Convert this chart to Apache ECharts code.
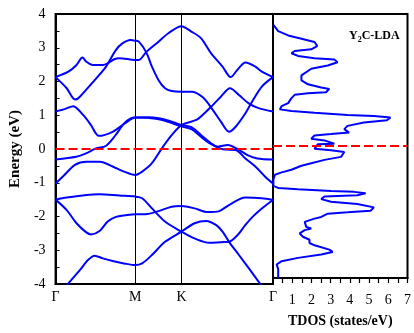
<!DOCTYPE html>
<html>
<head>
<meta charset="utf-8">
<script src="https://cdn.jsdelivr.net/npm/echarts@6/dist/echarts.min.js"></script>
<style>
  html, body { margin: 0; padding: 0; background: #fff; }
  #chart { width: 414px; height: 333px; }
</style>
</head>
<body>
<div id="chart"></div>
<script>
// high-symmetry points along the path (path length units) and their labels
const kPoints = [0, 0.578, 0.913, 1.577];
const kLabels = ['Γ', 'M', 'K', 'Γ'];

// bands, [k, energy eV]
const bandC3 = [[0, 2.13], [0.093, 2.29], [0.152, 2.49], [0.195, 2.71], [0.223, 2.59], [0.271, 2.49], [0.343, 2.49], [0.378, 2.54], [0.426, 2.66], [0.462, 2.69], [0.578, 2.64], [0.604, 2.64], [0.657, 2.87], [0.747, 3.18], [0.818, 3.43], [0.913, 3.64], [0.985, 3.48], [1.056, 3.28], [1.127, 2.84], [1.211, 2.44], [1.270, 2.13], [1.318, 2.34], [1.377, 2.56], [1.449, 2.44], [1.496, 2.29], [1.577, 2.13]];
const bandC2 = [[0, 2.13], [0.081, 1.80], [0.141, 1.47], [0.164, 1.50], [0.221, 1.75], [0.295, 2.09], [0.366, 2.44], [0.437, 2.93], [0.485, 3.13], [0.544, 3.23], [0.578, 3.21], [0.604, 3.18], [0.657, 2.87], [0.699, 2.44], [0.747, 2.04], [0.794, 1.80], [0.842, 1.72], [0.913, 1.70], [0.985, 1.70], [1.068, 1.53], [1.140, 1.16], [1.199, 0.81], [1.258, 0.51], [1.306, 0.66], [1.377, 1.06], [1.425, 1.40], [1.496, 1.85], [1.577, 2.13]];
const bandC1 = [[0, 1.11], [0.071, 1.19], [0.128, 1.27], [0.200, 1.01], [0.257, 0.71], [0.314, 0.39], [0.414, 0.51], [0.507, 0.77], [0.578, 0.93], [0.678, 0.94], [0.749, 0.91], [0.821, 0.84], [0.913, 0.71], [0.985, 0.65], [1.056, 0.41], [1.127, 0.17], [1.177, 0.07], [1.249, 0.12], [1.320, 0.0], [1.392, -0.18], [1.463, -0.28], [1.577, -0.31]];
const bandV1 = [[0, -0.31], [0.150, -0.23], [0.221, -0.13], [0.293, 0.02], [0.364, 0.09], [0.435, 0.41], [0.497, 0.76], [0.545, 0.91], [0.578, 0.93], [0.678, 0.92], [0.749, 0.88], [0.821, 0.80], [0.913, 0.67], [0.985, 0.59], [1.056, 0.36], [1.113, 0.18], [1.213, -0.01], [1.306, -0.03], [1.377, -0.28], [1.449, -0.52], [1.520, -0.82], [1.577, -1.02]];
const bandV2 = [[0, -1.02], [0.057, -0.80], [0.141, -0.47], [0.223, -0.38], [0.321, -0.38], [0.414, -0.52], [0.497, -0.67], [0.578, -0.77], [0.628, -0.67], [0.699, -0.42], [0.771, 0.02], [0.842, 0.41], [0.913, 0.71], [1.020, 0.86], [1.080, 1.06], [1.140, 1.30], [1.199, 1.55], [1.265, 1.80], [1.330, 1.60], [1.401, 1.35], [1.472, 1.21], [1.577, 1.11]];
const bandV3 = [[0, -1.50], [0.081, -1.44], [0.223, -1.36], [0.319, -1.34], [0.462, -1.38], [0.578, -1.41], [0.628, -1.46], [0.699, -1.76], [0.794, -2.15], [0.913, -2.45], [1.008, -2.65], [1.115, -2.78], [1.199, -2.76], [1.258, -2.75], [1.320, -2.55], [1.377, -2.25], [1.434, -1.99], [1.496, -1.76], [1.577, -1.51]];
const bandV4 = [[0, -1.50], [0.081, -1.81], [0.152, -2.20], [0.223, -2.47], [0.259, -2.53], [0.319, -2.43], [0.378, -2.15], [0.437, -2.01], [0.509, -1.96], [0.578, -1.93], [0.652, -1.93], [0.747, -1.84], [0.842, -1.71], [0.913, -1.69], [1.008, -1.76], [1.104, -1.87], [1.187, -1.84], [1.258, -1.66], [1.377, -1.44], [1.496, -1.46], [1.577, -1.51]];
const bandV5 = [[0.050, -4.21], [0.093, -3.98], [0.176, -3.59], [0.235, -3.29], [0.283, -3.16], [0.343, -3.24], [0.414, -3.32], [0.497, -3.39], [0.578, -3.44], [0.628, -3.39], [0.699, -3.14], [0.794, -2.75], [0.913, -2.45], [1.008, -2.20], [1.092, -2.13], [1.163, -2.25], [1.211, -2.45], [1.258, -2.75], [1.330, -3.14], [1.401, -3.53], [1.472, -3.93], [1.513, -4.15]];

// total DOS, [states/eV, energy eV]
const tdos = [[0.02, 3.67], [0.27, 3.48], [0.79, 3.35], [1.48, 3.25], [2.16, 3.15], [2.30, 3.03], [1.99, 2.93], [1.13, 2.88], [0.96, 2.81], [1.30, 2.73], [2.16, 2.66], [3.19, 2.62], [3.36, 2.54], [2.85, 2.44], [1.99, 2.34], [1.48, 2.14], [1.48, 1.99], [1.82, 1.87], [2.51, 1.77], [2.93, 1.73], [2.76, 1.63], [1.82, 1.60], [1.13, 1.55], [0.96, 1.45], [0.79, 1.30], [0.45, 1.21], [0.36, 1.11], [0.96, 1.06], [2.16, 1.01], [3.88, 0.94], [5.25, 0.91], [6.11, 0.86], [5.93, 0.78], [4.73, 0.71], [3.88, 0.61], [3.71, 0.51], [3.96, 0.41], [3.02, 0.36], [2.16, 0.32], [1.99, 0.22], [2.68, 0.17], [3.19, 0.07], [2.33, 0.05], [2.16, -0.08], [3.02, -0.13], [3.71, -0.18], [3.54, -0.33], [2.68, -0.42], [1.99, -0.52], [1.48, -0.60], [0.96, -0.72], [0.45, -0.80], [0.10, -0.87], [0.02, -1.02], [0.02, -1.21], [0.27, -1.27], [1.30, -1.31], [3.02, -1.36], [4.22, -1.39], [4.82, -1.43], [4.39, -1.49], [2.68, -1.53], [2.51, -1.61], [3.02, -1.69], [4.39, -1.76], [5.25, -1.86], [5.08, -1.96], [3.88, -2.01], [2.85, -2.05], [2.51, -2.15], [2.16, -2.20], [1.65, -2.30], [1.73, -2.45], [1.99, -2.50], [1.65, -2.55], [1.39, -2.65], [1.56, -2.75], [1.90, -2.84], [1.90, -2.94], [2.16, -3.01], [2.93, -3.14], [3.10, -3.21], [2.51, -3.29], [1.30, -3.39], [0.45, -3.49], [0.19, -3.59], [0.27, -3.73], [0.27, -3.88], [0.27, -4.0]];

const bands = [bandC3, bandC2, bandC1, bandV1, bandV2, bandV3, bandV4, bandV5];

const serif = '"Liberation Serif", "DejaVu Serif", serif';
const blue = '#0000ff';
// Fermi level, a fresh object for each series
const fermiLine = () => ({
  silent: true,
  symbol: 'none',
  label: { show: false },
  lineStyle: { color: '#ff0000', width: 2, type: [9, 4] },
  data: [{ yAxis: 0 }]
});

const chart = echarts.init(document.getElementById('chart'));

const series = bands.map((b) => ({
  type: 'line',
  xAxisIndex: 0,
  yAxisIndex: 0,
  data: b,
  showSymbol: false,
  smooth: 0.3,
  lineStyle: { color: blue, width: 2 },
  z: 3
}));
// vertical lines at M and K
series[0].markLine = {
  silent: true,
  symbol: 'none',
  label: { show: false },
  lineStyle: { color: '#000', width: 1, type: 'solid' },
  data: [{ xAxis: kPoints[1] }, { xAxis: kPoints[2] }]
};
series[1].markLine = fermiLine();
series.push({
  type: 'line',
  xAxisIndex: 1,
  yAxisIndex: 1,
  data: tdos,
  showSymbol: false,
  lineStyle: { color: blue, width: 2 },
  markLine: fermiLine()
});

chart.setOption({
  animation: false,
  backgroundColor: '#fff',
  title: {
    text: '{a|Y}{b|2}{a|C-LDA}',
    left: 344,
    top: 22,
    textStyle: {
      rich: {
        a: { fontFamily: serif, fontWeight: 'bold', fontSize: 12, color: '#000' },
        b: { fontFamily: serif, fontWeight: 'bold', fontSize: 8, color: '#000', padding: [9, 0, 0, 0] }
      }
    }
  },
  grid: [
    { left: 52, top: 14, width: 221, height: 270, show: true, borderColor: '#000', borderWidth: 2 },
    { left: 273, top: 14, width: 136, height: 270, show: true, borderColor: '#000', borderWidth: 2 }
  ],
  xAxis: [
    {
      gridIndex: 0, type: 'value', min: 0, max: kPoints[3],
      axisLine: { onZero: false, lineStyle: { color: '#000', width: 2 } },
      axisTick: { show: false },
      splitLine: { show: false },
      axisLabel: {
        customValues: kPoints,
        margin: 6,
        color: '#000', fontFamily: serif, fontSize: 14,
        formatter: (v) => {
          let best = 0;
          kPoints.forEach((p, i) => { if (Math.abs(p - v) < Math.abs(kPoints[best] - v)) best = i; });
          return kLabels[best];
        }
      }
    },
    {
      gridIndex: 1, type: 'value', min: 0, max: 7, interval: 0.5,
      name: 'TDOS (states/eV)', nameLocation: 'middle', nameGap: 36,
      nameTextStyle: { color: '#000', fontFamily: serif, fontWeight: 'bold', fontSize: 14 },
      axisLine: { onZero: false, lineStyle: { color: '#000', width: 2 } },
      axisTick: { show: true, inside: false, length: 5, lineStyle: { color: '#000', width: 1.2 } },
      splitLine: { show: false },
      axisLabel: {
        margin: 15,
        color: '#000', fontFamily: serif, fontSize: 14,
        showMinLabel: false,
        formatter: (v) => (Number.isInteger(v) && v > 0 ? String(v) : '')
      }
    }
  ],
  yAxis: [
    {
      gridIndex: 0, type: 'value', min: -4, max: 4, interval: 0.5,
      name: 'Energy (eV)', nameLocation: 'middle', nameGap: 30,
      nameTextStyle: { color: '#000', fontFamily: serif, fontWeight: 'bold', fontSize: 15 },
      axisLine: { onZero: false, lineStyle: { color: '#000', width: 2 } },
      axisTick: { show: true, inside: true, length: 4, lineStyle: { color: '#000', width: 1 } },
      splitLine: { show: false },
      axisLabel: {
        margin: 10,
        color: '#000', fontFamily: serif, fontSize: 14,
        formatter: (v) => (Number.isInteger(v) ? String(v) : '')
      }
    },
    {
      gridIndex: 1, type: 'value', min: -4, max: 4, interval: 0.5,
      axisLine: { onZero: false, lineStyle: { color: '#000', width: 2 } },
      axisTick: { show: false },
      axisLabel: { show: false },
      splitLine: { show: false }
    }
  ],
  series: series
});
</script>
</body>
</html>
